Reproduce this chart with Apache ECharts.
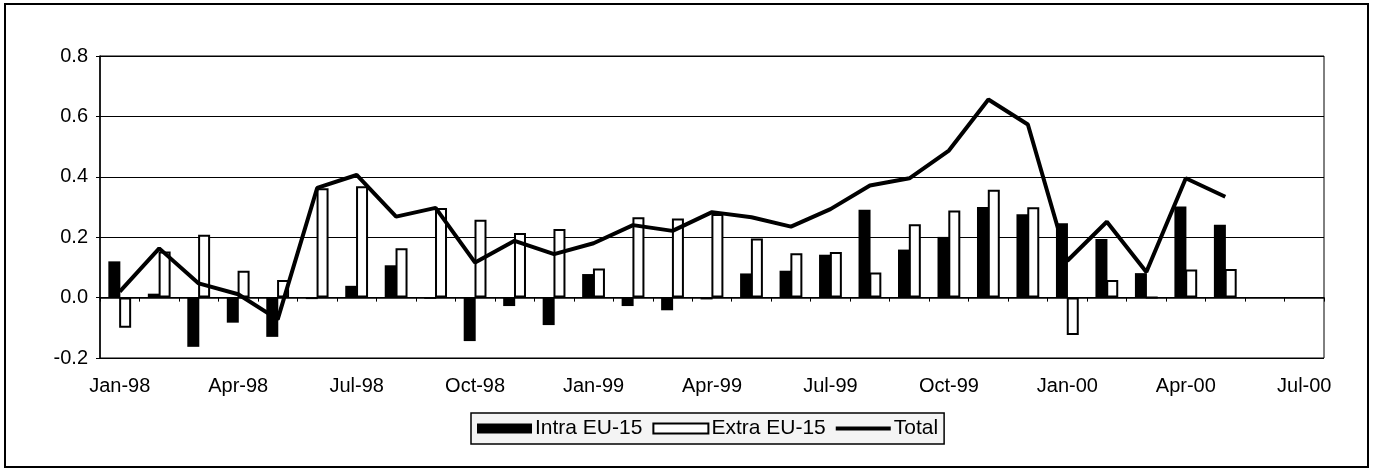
<!DOCTYPE html>
<html>
<head>
<meta charset="utf-8">
<title>Intra / Extra EU-15</title>
<script src="https://cdn.jsdelivr.net/npm/echarts@6/dist/echarts.min.js"></script>
<style>
    html, body { margin: 0; padding: 0; background: #fff; }
    #chart { width: 1376px; height: 471px; }
</style>
</head>
<body>
<div id="chart"></div>
<script>
// months on the axis (Jun-00 and Jul-00 have no data)
const months = ['Jan-98', 'Feb-98', 'Mar-98', 'Apr-98', 'May-98', 'Jun-98', 'Jul-98', 'Aug-98', 'Sep-98', 'Oct-98', 'Nov-98', 'Dec-98',
    'Jan-99', 'Feb-99', 'Mar-99', 'Apr-99', 'May-99', 'Jun-99', 'Jul-99', 'Aug-99', 'Sep-99', 'Oct-99', 'Nov-99', 'Dec-99',
    'Jan-00', 'Feb-00', 'Mar-00', 'Apr-00', 'May-00', 'Jun-00', 'Jul-00']
const intraEU = [0.12, 0.013, -0.163, -0.083, -0.13, -0.005, 0.039, 0.107, -0.004, -0.144, -0.028, -0.091,
    0.078, -0.028, -0.042, -0.006, 0.08, 0.089, 0.142, 0.291, 0.159, 0.201, 0.30, 0.276,
    0.246, 0.194, 0.081, 0.302, 0.241, null, null]
const extraEU = [-0.10, 0.153, 0.208, 0.089, 0.058, 0.362, 0.369, 0.163, 0.297, 0.258, 0.214, 0.227,
    0.096, 0.266, 0.262, 0.277, 0.196, 0.147, 0.151, 0.083, 0.243, 0.288, 0.357, 0.299,
    -0.124, 0.058, 0.0, 0.093, 0.095, null, null]
const total = [0.02, 0.163, 0.047, 0.011, -0.072, 0.363, 0.406, 0.268, 0.297, 0.116, 0.188, 0.144,
    0.18, 0.24, 0.221, 0.283, 0.266, 0.235, 0.293, 0.371, 0.395, 0.487, 0.656, 0.573,
    0.122, 0.251, 0.085, 0.395, 0.334, null, null]
const yTicks = { min: -0.2, max: 0.8, step: 0.2 }

const font = "'Liberation Sans', Arial, sans-serif"
const chart = echarts.init(document.getElementById('chart'))

const option = {
    animation: false,
    backgroundColor: '#fff',
    textStyle: { fontFamily: font, color: '#000' },
    grid: {
        left: 100,
        right: 52,
        top: 56,
        bottom: 113,
        show: true,
        borderColor: '#000',
        borderWidth: 1
    },
    // outer frame
    graphic: [{
        type: 'rect',
        shape: { x: 5, y: 4, width: 1363, height: 463 },
        style: { fill: null, stroke: '#000', lineWidth: 2 },
        silent: true
    }],
    legend: {
        left: 471,
        top: 413,
        padding: [5, 6],
        itemGap: 10,
        itemWidth: 55,
        itemHeight: 10,
        borderColor: '#000',
        borderWidth: 1.5,
        backgroundColor: '#f4f4f4',
        textStyle: { fontFamily: font, fontSize: 21, color: '#000', padding: [0, 0, 0, -2] },
        data: [
            { name: 'Intra EU-15', icon: 'rect' },
            { name: 'Extra EU-15', icon: 'rect' },
            // plain thick line, no marker
            { name: 'Total', icon: 'path://M0,0 L55,0 L55,4 L0,4 Z' }
        ]
    },
    xAxis: [{
        // zero line with month ticks
        type: 'category',
        data: months,
        position: 'bottom',
        axisLine: { onZero: true, lineStyle: { color: '#000', width: 1.5 } },
        axisTick: { show: true, interval: 0, length: 4, lineStyle: { color: '#000' } },
        axisLabel: { show: false },
        splitLine: { show: false }
    }, {
        // labels along the bottom of the plot
        type: 'category',
        data: months,
        position: 'bottom',
        axisLine: { show: false, onZero: false },
        axisTick: { show: false },
        axisLabel: {
            interval: 2,
            margin: 18,
            fontSize: 20,
            fontFamily: font,
            color: '#000'
        },
        splitLine: { show: false }
    }],
    yAxis: {
        type: 'value',
        min: yTicks.min,
        max: yTicks.max,
        interval: yTicks.step,
        axisLine: { show: true, lineStyle: { color: '#000', width: 1.5 } },
        axisTick: { show: true, length: 4, lineStyle: { color: '#000' } },
        axisLabel: {
            margin: 12,
            fontSize: 20,
            fontFamily: font,
            color: '#000',
            formatter: v => v.toFixed(1)
        },
        splitLine: { lineStyle: { color: '#000', width: 1 } }
    },
    series: [{
        name: 'Intra EU-15',
        type: 'bar',
        xAxisIndex: 0,
        barWidth: 12,
        barGap: '-10%',
        itemStyle: { color: '#000' },
        data: intraEU
    }, {
        name: 'Extra EU-15',
        type: 'bar',
        xAxisIndex: 0,
        barWidth: 12,
        barGap: '-10%',
        itemStyle: { color: '#fff', borderColor: '#000', borderWidth: 2 },
        data: extraEU
    }, {
        name: 'Total',
        type: 'line',
        xAxisIndex: 0,
        symbol: 'none',
        z: 5,
        itemStyle: { color: '#000' },
        lineStyle: { color: '#000', width: 4 },
        data: total
    }]
}

chart.setOption(option)
</script>
</body>
</html>
